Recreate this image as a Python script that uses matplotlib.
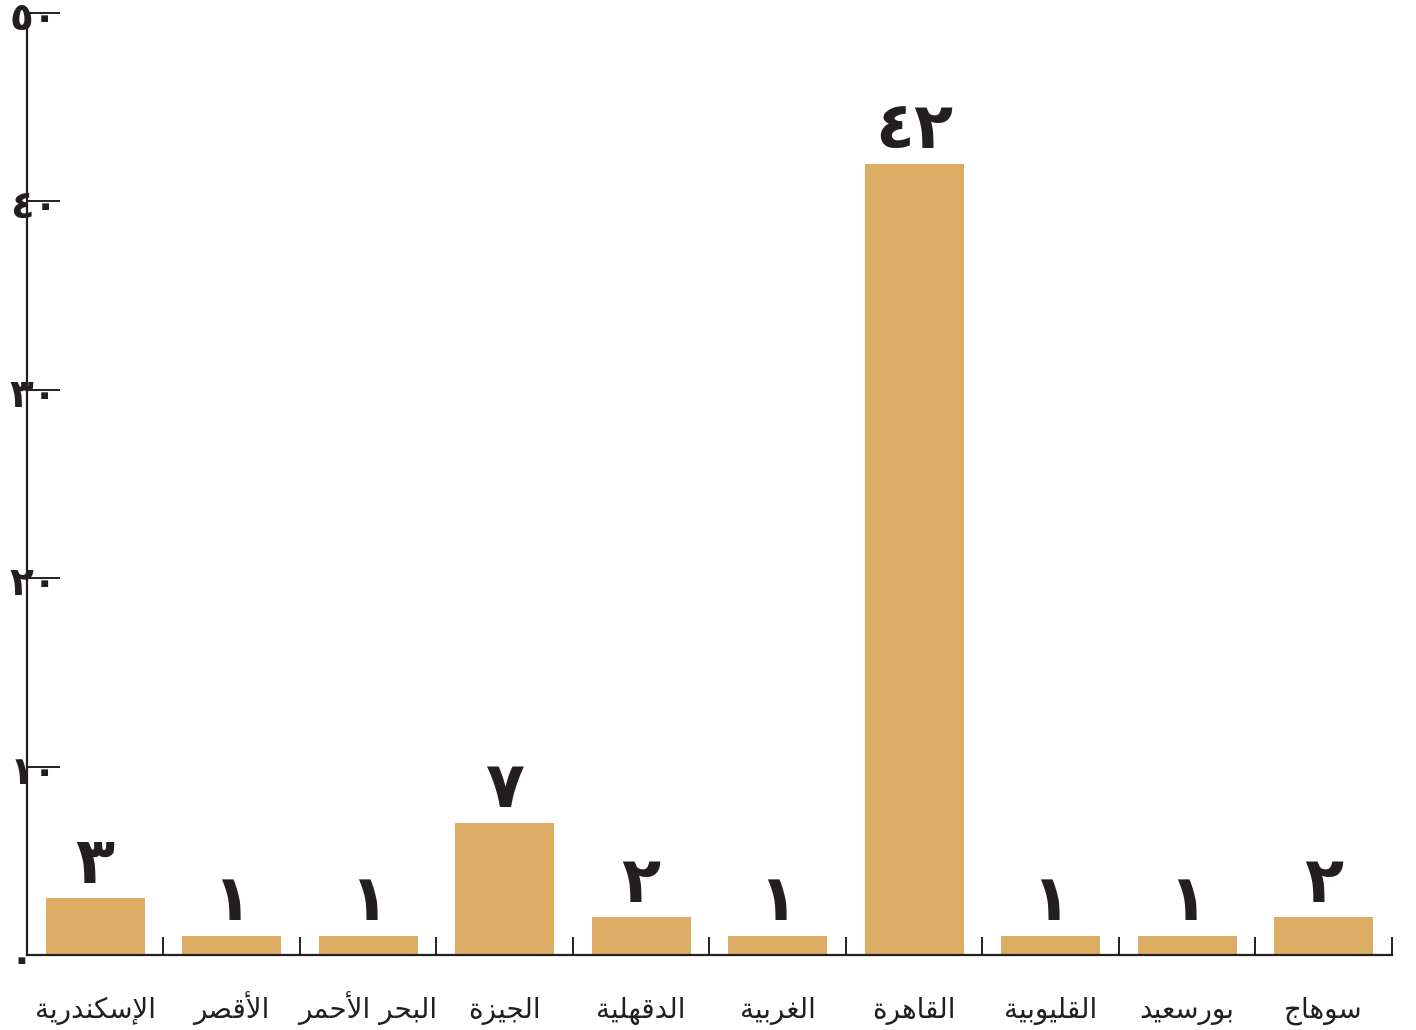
import matplotlib.pyplot as plt
import matplotlib.transforms as mtransforms
import numpy as np

# البيانات
governorates = ["الإسكندرية", "الأقصر", "البحر الأحمر", "الجيزة", "الدقهلية",
                "الغربية", "القاهرة", "القليوبية", "بورسعيد", "سوهاج"]
counts = [3, 1, 1, 7, 2, 1, 42, 1, 1, 2]
y_ticks = [0, 10, 20, 30, 40, 50]

BAR_COLOR = "#ddad66"
INK = "#231f20"

# matplotlib لا يشكّل الحروف العربية، لذا نحوّلها يدويا إلى أشكال العرض
DUAL = {"ب": 0xFE8F, "ج": 0xFE9D, "ح": 0xFEA1, "س": 0xFEB1, "ص": 0xFEB9,
        "ع": 0xFEC9, "غ": 0xFECD, "ق": 0xFED5, "ك": 0xFED9, "ل": 0xFEDD,
        "م": 0xFEE1, "ن": 0xFEE5, "ه": 0xFEE9, "ي": 0xFEF1}
RIGHT = {"ا": 0xFE8D, "أ": 0xFE83, "إ": 0xFE87, "ة": 0xFE93, "د": 0xFEA9,
         "ر": 0xFEAD, "ز": 0xFEAF, "و": 0xFEED}
LAM_ALEF = {"ا": 0xFEFB, "أ": 0xFEF7, "إ": 0xFEF9}


def shape(text):
    out = []
    chars = list(text)
    i = 0
    prev_joins = False
    while i < len(chars):
        c = chars[i]
        if c == "ل" and i + 1 < len(chars) and chars[i + 1] in LAM_ALEF:
            base = LAM_ALEF[chars[i + 1]]
            out.append(chr(base + 1 if prev_joins else base))
            prev_joins = False
            i += 2
            continue
        nxt = chars[i + 1] if i + 1 < len(chars) else " "
        next_joins = nxt in DUAL or nxt in RIGHT
        if c in DUAL:
            b = DUAL[c]
            if prev_joins and next_joins:
                out.append(chr(b + 3))
            elif prev_joins:
                out.append(chr(b + 1))
            elif next_joins:
                out.append(chr(b + 2))
            else:
                out.append(chr(b))
            prev_joins = True
        elif c in RIGHT:
            b = RIGHT[c]
            out.append(chr(b + 1 if prev_joins else b))
            prev_joins = False
        else:
            out.append(c)
            prev_joins = False
        i += 1
    return "".join(reversed(out))


def ar_num(n):
    return str(n).translate(str.maketrans("0123456789", "٠١٢٣٤٥٦٧٨٩"))


plt.rcParams["font.family"] = ["DejaVu Sans"]

fig = plt.figure(figsize=(14.16, 10.30), dpi=100)
ax = fig.add_axes([0.019, 0.0728, 0.964, 0.9146])

x = np.arange(len(governorates))
bars = ax.bar(x, counts, width=0.725, color=BAR_COLOR, zorder=2)

ax.set_xlim(-0.5, len(governorates) - 0.5)
ax.set_ylim(0, 50)

for spine in ["top", "right"]:
    ax.spines[spine].set_visible(False)
for spine in ["left", "bottom"]:
    ax.spines[spine].set_color(INK)
    ax.spines[spine].set_linewidth(1.6)
ax.spines["bottom"].set_zorder(3)

# تسميات المحافظات (على خط أساس واحد)
ax.set_xticks(x)
ax.set_xticklabels([])
ax.tick_params(axis="x", which="major", length=0)
ax.set_xticks(x + 0.5, minor=True)
ax.tick_params(axis="x", which="minor", direction="in", length=13,
               width=1.4, color=INK)
cat_tr = mtransforms.offset_copy(ax.get_xaxis_transform(), fig=fig, x=0, y=-63, units="dots")
for xi, g in zip(x, governorates):
    ax.text(xi, 0, shape(g), transform=cat_tr, ha="center", va="baseline",
            fontsize=20, color=INK, clip_on=False)

# محور الصادات
ax.set_yticks(y_ticks)
ax.set_yticklabels([])
ax.tick_params(axis="y", direction="in", length=24, width=1.4, color=INK)
lab_tr = mtransforms.offset_copy(ax.get_yaxis_transform(), fig=fig, x=-17, y=-6, units="dots")
for t in y_ticks:
    ax.text(0, t, ar_num(t), transform=lab_tr, ha="left", va="center",
            fontsize=28, fontweight="bold", color=INK, clip_on=False)

# قيم الأعمدة
for b, v in zip(bars, counts):
    ax.annotate(ar_num(v), (b.get_x() + b.get_width() / 2, v),
                xytext=(0, 2), textcoords="offset points",
                ha="center", va="bottom", fontsize=46, fontweight="bold",
                color=INK)

fig.savefig("out.png", dpi=100)
